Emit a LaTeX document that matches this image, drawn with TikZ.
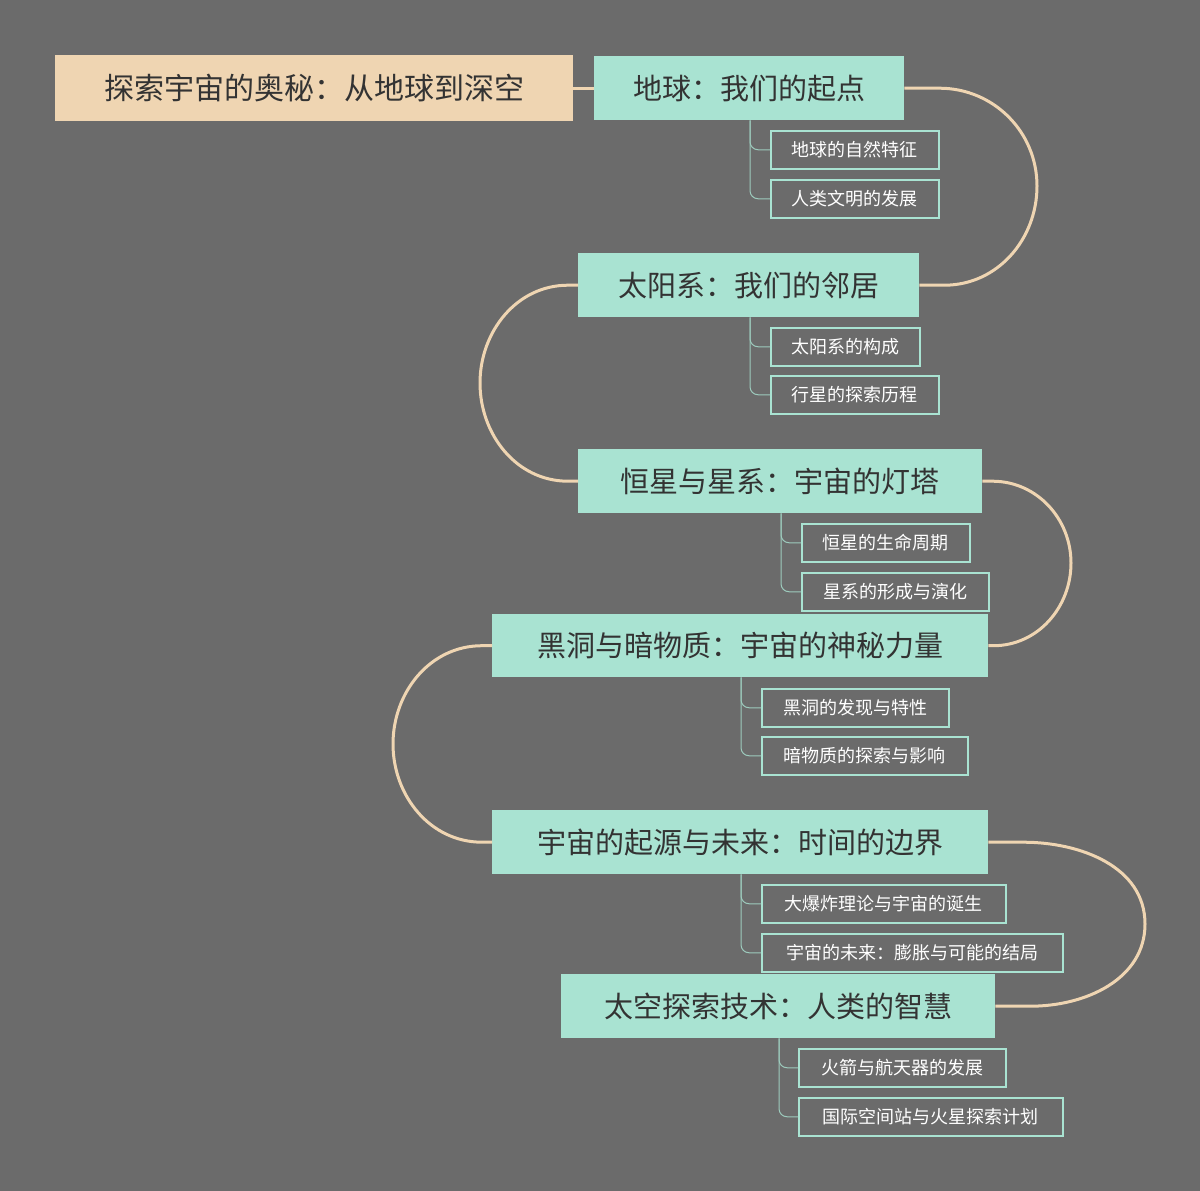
\documentclass[tikz,border=0pt]{standalone}
\usepackage{fontspec}
\setmainfont{Noto Sans CJK SC}
\usetikzlibrary{calc}
\definecolor{bg}{HTML}{6B6B6B}
\definecolor{rootc}{HTML}{EFD5B2}
\definecolor{mint}{HTML}{A9E3D2}
\definecolor{txt}{HTML}{333333}
\definecolor{curve}{HTML}{EFD5B2}
\tikzset{
 box/.style 2 args={minimum width=#1, minimum height=#2, inner sep=0pt, anchor=north west},
 rootbox/.style={fill=rootc, text=txt, font=\fontsize{30}{34}\selectfont},
 mainbox/.style={fill=mint, text=txt, font=\fontsize{29}{34}\selectfont},
 subbox/.style={draw=mint, line width=1.5pt, text=white, font=\fontsize{18}{22}\selectfont},
 bigline/.style={draw=curve, line width=3pt},
 subline/.style={draw=mint!80!bg, line width=1pt, rounded corners=8pt}
}
\begin{document}
\begin{tikzpicture}[x=1pt,y=-1pt]
\fill[bg] (0,0) rectangle (1200,1191);
\useasboundingbox (0,0) rectangle (1200,1191);
\node[box={518pt}{66pt}, rootbox] (R) at (55,55) {探索宇宙的奥秘：从地球到深空};
\node[box={310pt}{64pt}, mainbox] (M1) at (594,56) {地球：我们的起点};
\node[box={341pt}{64pt}, mainbox] (M2) at (578,253) {太阳系：我们的邻居};
\node[box={404pt}{64pt}, mainbox] (M3) at (578,449) {恒星与星系：宇宙的灯塔};
\node[box={496pt}{63pt}, mainbox] (M4) at (492,614) {黑洞与暗物质：宇宙的神秘力量};
\node[box={496pt}{64pt}, mainbox] (M5) at (492,810) {宇宙的起源与未来：时间的边界};
\node[box={434pt}{64pt}, mainbox] (M6) at (561,974) {太空探索技术：人类的智慧};
\node[box={168pt}{38pt}, subbox] (S1a) at (770,130) {地球的自然特征};
\node[box={168pt}{38pt}, subbox] (S1b) at (770,179) {人类文明的发展};
\node[box={149pt}{38pt}, subbox] (S2a) at (770,327) {太阳系的构成};
\node[box={168pt}{38pt}, subbox] (S2b) at (770,375) {行星的探索历程};
\node[box={168pt}{38pt}, subbox] (S3a) at (801,523) {恒星的生命周期};
\node[box={187pt}{38pt}, subbox] (S3b) at (801,572) {星系的形成与演化};
\node[box={187pt}{38pt}, subbox] (S4a) at (761,688) {黑洞的发现与特性};
\node[box={206pt}{38pt}, subbox] (S4b) at (761,736) {暗物质的探索与影响};
\node[box={244pt}{38pt}, subbox] (S5a) at (761,884) {大爆炸理论与宇宙的诞生};
\node[box={301pt}{38pt}, subbox] (S5b) at (761,933) {宇宙的未来：膨胀与可能的结局};
\node[box={207pt}{38pt}, subbox] (S6a) at (798,1048) {火箭与航天器的发展};
\node[box={264pt}{38pt}, subbox] (S6b) at (798,1097) {国际空间站与火星探索计划};
% root link
\draw[bigline] (R.east) -- (M1.west);
% curves
\draw[bigline] (M1.east) -- ++(35,0) to[out=0,in=90] (1037,186) to[out=-90,in=0] ($(M2.east)+(25,0)$) -- (M2.east);
\draw[bigline] (M2.west) -- ++(-10,0) to[out=180,in=90] (480,383) to[out=-90,in=180] ($(M3.west)+(-10,0)$) -- (M3.west);
\draw[bigline] (M3.east) -- ++(10,0) to[out=0,in=90] (1071,563) to[out=-90,in=0] ($(M4.east)+(5,0)$) -- (M4.east);
\draw[bigline] (M4.west) -- ++(-10,0) to[out=180,in=90] (393,744) to[out=-90,in=180] ($(M5.west)+(-10,0)$) -- (M5.west);
\draw[bigline] (M5.east) -- ++(35,0) to[out=0,in=90] (1145,924) to[out=-90,in=0] ($(M6.east)+(35,0)$) -- (M6.east);
% sub connectors
\foreach \m/\a/\b/\x in {M1/S1a/S1b/750, M2/S2a/S2b/750, M3/S3a/S3b/781, M4/S4a/S4b/741, M5/S5a/S5b/741, M6/S6a/S6b/779}{
 \draw[subline] (\x,0 |- \m.south) -- (\x,0 |- \a.west) -- (\a.west);
 \draw[subline] (\x,0 |- \m.south) -- (\x,0 |- \b.west) -- (\b.west);
}
\end{tikzpicture}
\end{document}
